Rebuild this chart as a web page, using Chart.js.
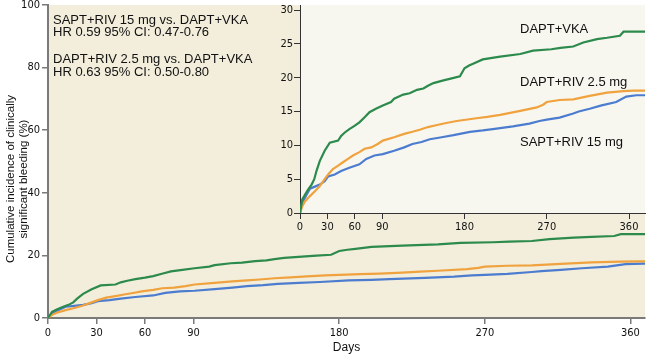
<!DOCTYPE html>
<html><head><meta charset="utf-8">
<script src="https://cdn.jsdelivr.net/npm/chart.js@4/dist/chart.umd.min.js"></script>
<style>
html,body{margin:0;padding:0;background:#fff;}
#wrap{position:relative;width:668px;height:357px;overflow:hidden;}
canvas{position:absolute;}
</style>
</head><body>
<div id="wrap">
<canvas id="main" width="668" height="357" style="left:0;top:0;"></canvas>
<canvas id="inset" width="400" height="240" style="left:260px;top:0;"></canvas>
</div>
<script>
// ---- data (days, cumulative incidence %) ----
const daysDaptVka = [0,2.5,5.4,9,12.7,15.6,18,21.7,27,32.6,41.7,45,49,54,60,65,71,76,83,90.6,99.6,103,113,120,128,135,140,146,157,166,175,180,185,190,200,219,241,255,275,285,299,310,325,336,350,354,378];
const pctDaptVka  = [0,2.0,2.7,3.5,4.2,5.0,6.2,7.7,9.2,10.4,10.7,11.4,11.9,12.4,12.9,13.4,14.2,14.9,15.4,15.9,16.4,16.9,17.5,17.7,18.2,18.4,18.8,19.2,19.6,19.9,20.2,21.4,21.8,22.1,22.7,23.1,23.5,24.0,24.2,24.4,24.6,25.2,25.7,25.9,26.2,26.8,26.8];

const daysDaptRiv = [0,2.5,5.4,10.9,16.3,21.7,27,30.8,36,41.7,47,52.5,58,65,70.7,78,85,90.6,103,114,123,131,140,150,160,171.5,193,205,219,230,241,259,266,270,284,299,317,336,354,365,378];
const pctDaptRiv  = [0,1.0,1.7,2.5,3.2,4.0,5.0,5.7,6.5,7.0,7.5,8.0,8.5,9.0,9.5,9.7,10.2,10.7,11.2,11.7,12.0,12.3,12.7,13.0,13.3,13.6,14.0,14.2,14.5,14.8,15.1,15.6,16.0,16.4,16.7,16.8,17.3,17.8,18.0,18.1,18.1];

const daysSaptRiv = [0,2.5,7.2,10.9,16.3,21.7,27,30.8,38,45,54,65,72.5,81.5,90.6,103,114,123,133,142,155,168,186,200,211,233,251,262,270,284,299,305,317,330,346,357,368,378];
const pctSaptRiv  = [0,1.5,2.7,3.6,3.9,4.2,4.7,5.4,5.7,6.2,6.7,7.2,8.0,8.5,8.7,9.2,9.7,10.2,10.5,10.9,11.2,11.5,12.0,12.2,12.4,12.8,13.2,13.6,13.8,14.1,14.7,15.0,15.4,15.9,16.4,17.2,17.4,17.4];

const seriesNames = ['DAPT+VKA','DAPT+RIV 2.5 mg','SAPT+RIV 15 mg'];
const xTickDays = [0,30,60,90,180,270,360];
const mainYTicks = [0,20,40,60,80,100];
const insetYTicks = [0,5,10,15,20,25,30];
const hrTexts = ['SAPT+RIV 15 mg vs. DAPT+VKA','HR 0.59 95% CI: 0.47-0.76','DAPT+RIV 2.5 mg vs. DAPT+VKA','HR 0.63 95% CI: 0.50-0.80'];
const yTitle = ['Cumulative incidence of clinically','significant bleeding (%)'];

// ---- styling ----
const colors = ['#2b8a4c','#f0a23e','#4b7ccf'];
const tickFont = {family:"'DejaVu Sans Condensed','Liberation Sans Narrow',sans-serif", size:11};
const textFamily = "'Liberation Sans',Arial,sans-serif";

function buildDatasets(){
  const all = [[daysDaptVka,pctDaptVka],[daysDaptRiv,pctDaptRiv],[daysSaptRiv,pctSaptRiv]];
  return all.map((s,i)=>({
    label: seriesNames[i],
    data: s[0].map((d,j)=>({x:d,y:s[1][j]})),
    borderColor: colors[i],
    borderWidth: 2.2,
    stepped: false,
    tension: 0,
    pointRadius: 0,
    fill: false
  }));
}

const bgPlugin = {
  id:'bg',
  beforeDraw(chart, args, opts){
    const {ctx, chartArea:a} = chart;
    ctx.save();
    ctx.fillStyle = opts.color;
    ctx.fillRect(a.left, a.top, a.right-a.left, a.bottom-a.top);
    ctx.restore();
  }
};
const textPlugin = {
  id:'texts',
  afterDraw(chart, args, opts){
    const ctx = chart.ctx;
    (opts.items||[]).forEach(it=>{
      ctx.save();
      ctx.font = it.font;
      ctx.fillStyle = '#111';
      ctx.textAlign = it.align || 'left';
      ctx.textBaseline = 'alphabetic';
      ctx.translate(it.x, it.y);
      if (it.rotate) ctx.rotate(it.rotate);
      ctx.fillText(it.text, 0, 0);
      ctx.restore();
    });
  }
};

function axisCommon(color, bw){
  return {
    grid:{drawOnChartArea:false, drawTicks:true, tickLength:6, color:color, lineWidth:bw>1?1.5:1},
    border:{display:true, color:color, width:bw}
  };
}

// ---- main chart ----
const mainFont = '13px ' + textFamily;
new Chart(document.getElementById('main'), {
  type:'line',
  data:{datasets: buildDatasets()},
  options:{
    responsive:false, animation:false, devicePixelRatio:1,
    layout:{padding:{top:5,right:23,left:0,bottom:0}},
    plugins:{
      legend:{display:false}, tooltip:{enabled:false},
      bg:{color:'#f3eedb'},
      texts:{items:[
        {text:hrTexts[0], x:53, y:23.5, font:mainFont},
        {text:hrTexts[1], x:53, y:36, font:mainFont},
        {text:hrTexts[2], x:53, y:63, font:mainFont},
        {text:hrTexts[3], x:53, y:75.5, font:mainFont},
        {text:yTitle[0], x:13.5, y:179, font:'11.5px '+textFamily, align:'center', rotate:-Math.PI/2},
        {text:yTitle[1], x:26.5, y:179, font:'11.5px '+textFamily, align:'center', rotate:-Math.PI/2}
      ]}
    },
    scales:{
      x:Object.assign({
        type:'linear', min:0, max:369,
        afterBuildTicks:s=>{ s.ticks = xTickDays.map(v=>({value:v})); },
        afterFit:s=>{ s.height = 39; s.paddingLeft=0; s.paddingRight=0; },
        ticks:{font:tickFont, color:'#111', padding:3, maxRotation:0, autoSkip:false},
        title:{display:true, text:'Days', color:'#111', font:{family:textFamily, size:12}, padding:{top:0,bottom:2}}
      }, axisCommon('#7a7a7a',2)),
      y:Object.assign({
        type:'linear', min:0, max:100,
        afterBuildTicks:s=>{ s.ticks = mainYTicks.map(v=>({value:v})); },
        afterFit:s=>{ s.width = 48; s.paddingTop=0; s.paddingBottom=0; },
        ticks:{font:tickFont, color:'#111', padding:2}
      }, axisCommon('#7a7a7a',2))
    }
  },
  plugins:[bgPlugin, textPlugin]
});

// ---- inset chart ----
new Chart(document.getElementById('inset'), {
  type:'line',
  data:{datasets: buildDatasets()},
  options:{
    responsive:false, animation:false, devicePixelRatio:1,
    layout:{padding:{top:5,right:15,left:0,bottom:0}},
    plugins:{
      legend:{display:false}, tooltip:{enabled:false},
      bg:{color:'#f8f7ef'},
      texts:{items:[
        {text:seriesNames[0], x:260, y:33, font:mainFont},
        {text:seriesNames[1], x:260, y:86, font:mainFont},
        {text:seriesNames[2], x:260, y:145.5, font:mainFont}
      ]}
    },
    scales:{
      x:Object.assign({
        type:'linear', min:0, max:377.5,
        afterBuildTicks:s=>{ s.ticks = xTickDays.map(v=>({value:v})); },
        afterFit:s=>{ s.height = 27; s.paddingLeft=0; s.paddingRight=0; },
        ticks:{font:tickFont, color:'#111', padding:2, maxRotation:0, autoSkip:false}
      }, axisCommon('#333',1)),
      y:Object.assign({
        type:'linear', min:0, max:30.74,
        afterBuildTicks:s=>{ s.ticks = insetYTicks.map(v=>({value:v})); },
        afterFit:s=>{ s.width = 40; s.paddingTop=0; s.paddingBottom=0; },
        ticks:{font:tickFont, color:'#111', padding:1}
      }, axisCommon('#333',1))
    }
  },
  plugins:[bgPlugin, textPlugin]
});
</script>
</body></html>
